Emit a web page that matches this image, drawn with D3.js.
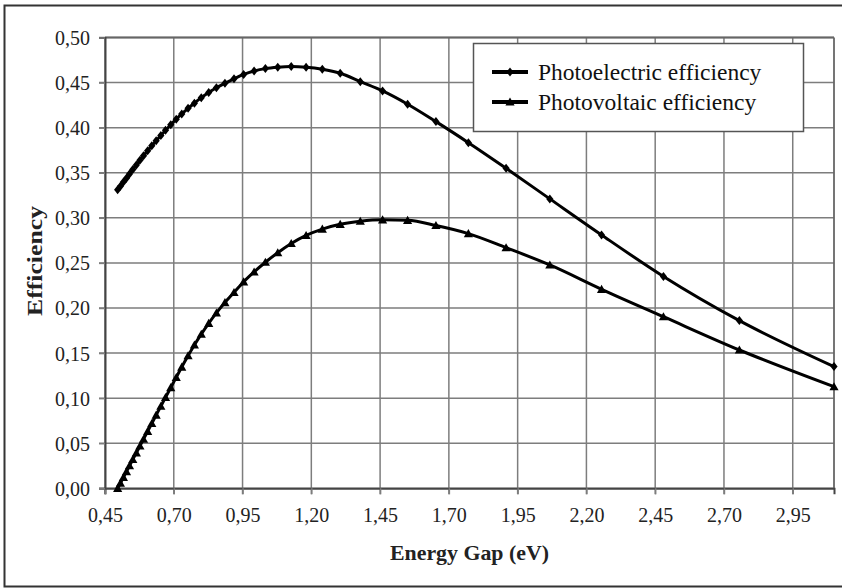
<!DOCTYPE html>
<html>
<head>
<meta charset="utf-8">
<script src="https://cdn.jsdelivr.net/npm/d3@7"></script>
<style>
  html, body { margin: 0; padding: 0; background: #fff; }
  svg { display: block; }
  .serif { font-family: "Liberation Serif", "Times New Roman", serif; }
</style>
</head>
<body>
<svg id="chart" width="842" height="588"></svg>
<script>
// ---- data ----
const energyGap = [0.496, 0.506, 0.517, 0.528, 0.539, 0.551, 0.564, 0.577, 0.590, 0.605,
  0.620, 0.636, 0.653, 0.670, 0.689, 0.709, 0.729, 0.752, 0.775, 0.800,
  0.827, 0.855, 0.886, 0.919, 0.954, 0.992, 1.033, 1.078, 1.127, 1.181,
  1.240, 1.305, 1.378, 1.459, 1.550, 1.653, 1.771, 1.908, 2.067, 2.255,
  2.480, 2.756, 3.100];
const photoelectric = [0.331, 0.335, 0.3396, 0.344, 0.3486, 0.3535, 0.3587, 0.3638, 0.3688, 0.3744,
  0.3799, 0.3856, 0.3914, 0.3970, 0.4032, 0.4094, 0.4152, 0.4214, 0.4272, 0.4333,
  0.4390, 0.4442, 0.4492, 0.4542, 0.4590, 0.4628, 0.4655, 0.4670, 0.4677, 0.4670,
  0.4648, 0.4603, 0.4510, 0.4407, 0.4260, 0.4067, 0.3834, 0.3550, 0.3210, 0.2810,
  0.2350, 0.1860, 0.1350];
const photovoltaic = [0.000, 0.0058, 0.0122, 0.0186, 0.0250, 0.0320, 0.0394, 0.0470, 0.0545, 0.0632,
  0.0719, 0.0812, 0.0910, 0.1008, 0.1117, 0.1230, 0.1345, 0.1470, 0.1590, 0.1710,
  0.1830, 0.1945, 0.2060, 0.2172, 0.2290, 0.2400, 0.2507, 0.2613, 0.2715, 0.2805,
  0.2875, 0.2928, 0.2962, 0.2978, 0.2972, 0.2915, 0.2825, 0.2669, 0.2477, 0.2207,
  0.1903, 0.1534, 0.1127];
const seriesNames = ["Photoelectric efficiency", "Photovoltaic efficiency"];
const xTicks = [0.45, 0.70, 0.95, 1.20, 1.45, 1.70, 1.95, 2.20, 2.45, 2.70, 2.95];
const yTicks = [0.00, 0.05, 0.10, 0.15, 0.20, 0.25, 0.30, 0.35, 0.40, 0.45, 0.50];
const xDomain = [0.45, 3.10];
const yDomain = [0, 0.5];
const xTitle = "Energy Gap (eV)";
const yTitle = "Efficiency";

// ---- layout ----
const svg = d3.select("#chart");
const L = 105, R = 834, T = 37.5, B = 488.3;
const x = d3.scaleLinear().domain(xDomain).range([L, R]);
const y = d3.scaleLinear().domain(yDomain).range([B, T]);
const fmt = v => d3.format(".2f")(v).replace(".", ",");

// outer frame
svg.append("rect").attr("x", 4.5).attr("y", 5.5).attr("width", 850).attr("height", 581)
  .attr("fill", "#fff").attr("stroke", "#333").attr("stroke-width", 2);

// grid
const grid = svg.append("g");
grid.selectAll("line.vx").data(xTicks).join("line")
  .attr("x1", d => x(d)).attr("x2", d => x(d)).attr("y1", T).attr("y2", B + 6)
  .attr("stroke", "#7d7d7d").attr("stroke-width", 1.5);
grid.selectAll("line.hy").data(yTicks).join("line")
  .attr("x1", L - 6).attr("x2", R).attr("y1", d => y(d)).attr("y2", d => y(d))
  .attr("stroke", "#7d7d7d").attr("stroke-width", 1.5);
// plot frame top/right
svg.append("line").attr("x1", L).attr("x2", R).attr("y1", T).attr("y2", T)
  .attr("stroke", "#666").attr("stroke-width", 1.8);
svg.append("line").attr("x1", R).attr("x2", R).attr("y1", T).attr("y2", B)
  .attr("stroke", "#666").attr("stroke-width", 1.8);

// axes via d3
const xAxis = svg.append("g").attr("transform", `translate(0,${B})`)
  .call(d3.axisBottom(x).tickValues(xTicks).tickFormat(fmt).tickSize(6).tickPadding(14));
const yAxis = svg.append("g").attr("transform", `translate(${L},0)`)
  .call(d3.axisLeft(y).tickValues(yTicks).tickFormat(fmt).tickSize(6).tickPadding(9));
[xAxis, yAxis].forEach(a => {
  a.attr("font-family", null).attr("class", "serif");
  a.select(".domain").attr("stroke", "#444").attr("stroke-width", 2);
  a.selectAll(".tick line").attr("stroke", "#7d7d7d").attr("stroke-width", 1.5);
  a.selectAll("text").attr("font-size", 20).attr("fill", "#222");
});
yAxis.selectAll("text").attr("dy", "0.35em");

// axis titles
svg.append("text").attr("class", "serif").attr("x", (L + R) / 2).attr("y", 560).attr("text-anchor", "middle")
  .attr("font-weight", "bold").attr("font-size", 21).attr("fill", "#222")
  .attr("textLength", 159).attr("lengthAdjust", "spacingAndGlyphs")
  .text(xTitle);
svg.append("text").attr("class", "serif").attr("transform", "translate(42,261) rotate(-90)").attr("text-anchor", "middle")
  .attr("font-weight", "bold").attr("font-size", 21).attr("fill", "#222")
  .attr("textLength", 110).attr("lengthAdjust", "spacingAndGlyphs")
  .text(yTitle);

// series
const diamond = "M0,-4.5L3.6,0L0,4.5L-3.6,0Z";
const triangle = "M0,-4.5L4.6,3.6L-4.6,3.6Z";
const shapes = [diamond, triangle];
const seriesData = [photoelectric, photovoltaic].map(vals => energyGap.map((e, i) => [e, vals[i]]));
const line = d3.line().x(d => x(d[0])).y(d => y(d[1])).curve(d3.curveMonotoneX);

seriesData.forEach((pts, si) => {
  const g = svg.append("g");
  g.append("path").datum(pts).attr("d", line).attr("fill", "none")
    .attr("stroke", "#000").attr("stroke-width", 3).attr("stroke-linejoin", "round");
  g.selectAll("path.m").data(pts).join("path").attr("class", "m")
    .attr("d", shapes[si]).attr("transform", d => `translate(${x(d[0])},${y(d[1])})`)
    .attr("fill", "#000");
});

// legend
const lg = svg.append("g");
lg.append("rect").attr("x", 473.5).attr("y", 43.5).attr("width", 330).attr("height", 88)
  .attr("fill", "#fff").attr("stroke", "#555").attr("stroke-width", 1.5);
seriesNames.forEach((name, i) => {
  const cy = 72 + i * 30;
  lg.append("line").attr("x1", 492).attr("x2", 528).attr("y1", cy).attr("y2", cy)
    .attr("stroke", "#000").attr("stroke-width", 4);
  lg.append("path").attr("d", shapes[i]).attr("transform", `translate(510,${cy})`).attr("fill", "#000");
  lg.append("text").attr("class", "serif").attr("x", 538).attr("y", cy).attr("dy", "0.33em")
    .attr("font-size", 23.5).attr("fill", "#111").text(name);
});
</script>
</body>
</html>
